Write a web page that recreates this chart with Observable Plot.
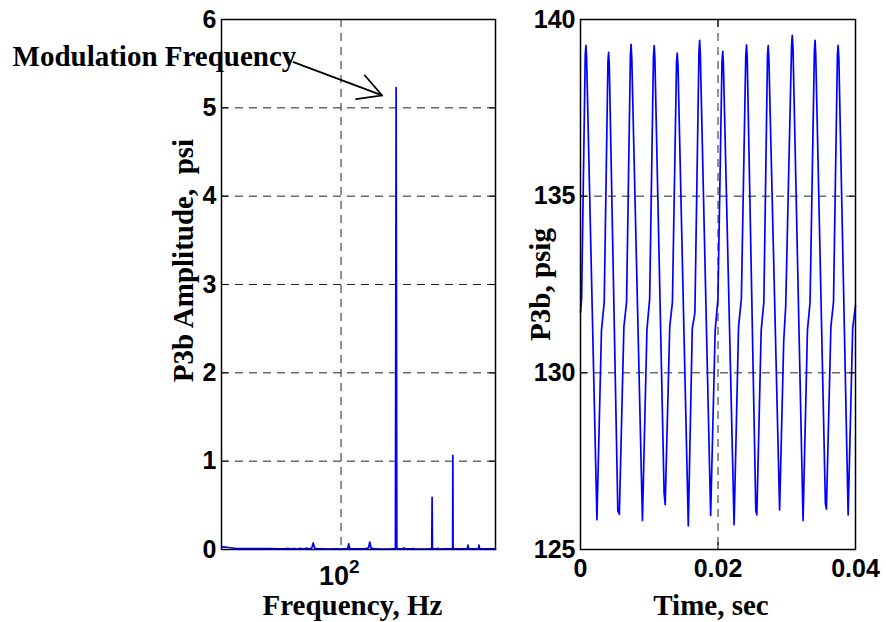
<!DOCTYPE html>
<html><head><meta charset="utf-8">
<script src="https://cdn.jsdelivr.net/npm/d3@7"></script>
<script src="https://cdn.jsdelivr.net/npm/@observablehq/plot@0.6"></script>
<style>
body{margin:0;background:#fff;}
#wrap{position:relative;width:886px;height:622px;overflow:hidden;background:#fff;}
#left{position:absolute;left:0;top:0;}
#right{position:absolute;left:510px;top:0;}
svg{overflow:visible;}
</style></head><body><div id="wrap"><div id="left"></div><div id="right"></div></div>
<script>
// ---- Left panel: spectrum ----
const specFreqHz = [10, 10.8, 11.9, 13, 15, 20, 25, 30, 34, 36, 38, 41, 43, 46, 48, 52, 54, 57, 58.5, 60, 62, 70, 80, 90, 100, 110, 114, 116, 118, 122, 140, 160, 170, 174, 178, 190, 220, 260, 285, 289, 293, 300, 330, 335, 340, 395, 403, 410, 500, 560, 574, 578, 582, 640, 645, 650, 760, 850, 858, 862, 866, 950, 1100, 1140, 1154, 1168, 1300, 1410, 1427, 1445, 1700, 1960];
const specAmpPsi = [0.03, 0.028, 0.02, 0.012, 0.01, 0.009, 0.009, 0.008, 0.007, 0.012, 0.006, 0.01, 0.005, 0.012, 0.006, 0.015, 0.006, 0.02, 0.075, 0.02, 0.006, 0.006, 0.005, 0.006, 0.005, 0.006, 0.015, 0.065, 0.015, 0.006, 0.006, 0.007, 0.02, 0.085, 0.02, 0.006, 0.005, 0.006, 0.01, 5.23, 0.02, 0.01, 0.006, 0.02, 0.006, 0.006, 0.012, 0.005, 0.005, 0.006, 0.01, 0.59, 0.01, 0.006, 0.015, 0.005, 0.006, 0.008, 0.02, 1.065, 0.01, 0.006, 0.006, 0.01, 0.05, 0.01, 0.006, 0.01, 0.05, 0.01, 0.006, 0.007];
const ampTicks = [0, 1, 2, 3, 4, 5, 6];
const freqTicks = [100];
const freqDomain = [10, 1960];

// ---- Right panel: time trace ----
const timeSec = [0, 0.00016, 0.00069, 0.00079, 0.00089, 0.00239, 0.00305, 0.00345, 0.00399, 0.00409, 0.00419, 0.00543, 0.00565, 0.00631, 0.00670, 0.00726, 0.00736, 0.00746, 0.00901, 0.00966, 0.01006, 0.01061, 0.01072, 0.01082, 0.01216, 0.01232, 0.01298, 0.01337, 0.01397, 0.01407, 0.01418, 0.01568, 0.01626, 0.01664, 0.01723, 0.01733, 0.01743, 0.01893, 0.01959, 0.01999, 0.02058, 0.02069, 0.02079, 0.02234, 0.02299, 0.02340, 0.02404, 0.02415, 0.02425, 0.02550, 0.02565, 0.02628, 0.02667, 0.02720, 0.02730, 0.02740, 0.02896, 0.02956, 0.02985, 0.03070, 0.03080, 0.03091, 0.03237, 0.03301, 0.03339, 0.03402, 0.03412, 0.03422, 0.03562, 0.03577, 0.03642, 0.03680, 0.03737, 0.03747, 0.03758, 0.03893, 0.03959, 0.04];
const p3bPsig = [131.7, 132.1, 139.0, 139.27, 138.9, 125.84, 131.2, 132.0, 138.8, 139.07, 138.7, 126.1, 126.0, 131.3, 132.0, 139.0, 139.30, 138.9, 125.82, 131.2, 132.1, 138.95, 139.26, 138.9, 126.6, 126.27, 131.3, 132.0, 138.8, 139.05, 138.7, 125.67, 131.26, 131.7, 139.1, 139.41, 139.0, 125.96, 131.2, 132.1, 138.8, 139.10, 138.7, 125.70, 131.3, 132.1, 139.0, 139.28, 138.9, 126.1, 125.98, 131.2, 132.0, 139.0, 139.26, 138.9, 126.12, 130.9, 131.9, 139.25, 139.55, 139.2, 125.82, 131.2, 132.0, 139.1, 139.41, 139.0, 126.3, 126.14, 131.3, 132.0, 139.0, 139.27, 138.9, 125.98, 131.26, 131.9];
const timeTicks = [0, 0.02, 0.04];
const pressTicks = [125, 130, 135, 140];

const sans = "'Liberation Sans', Arial, Helvetica, sans-serif";
const serif = "'Liberation Serif', 'Times New Roman', Times, serif";
const blue = "#0000ff";
const gridStyle = {stroke: "#222", strokeOpacity: 1, strokeWidth: 1, strokeDasharray: "8,6"};
const titleStyle = {fontFamily: serif, fontSize: 29, fontWeight: "bold", fill: "#000", textAnchor: "middle", lineAnchor: "middle"};

const spec = specFreqHz.map((f, i) => ({f, a: specAmpPsi[i]}));
const trace = timeSec.map((t, i) => ({t, p: p3bPsig[i]}));

const left = Plot.plot({
  width: 510, height: 622,
  marginLeft: 221, marginRight: 15, marginTop: 19, marginBottom: 73,
  x: {type: "log", domain: freqDomain, axis: null},
  y: {domain: [0, 6]},
  style: {fontFamily: sans, background: "transparent", overflow: "visible"},
  marks: [
    Plot.gridY(ampTicks.slice(1, -1), gridStyle),
    Plot.gridX(freqTicks, gridStyle),
    Plot.line(spec, {x: "f", y: "a", stroke: blue, strokeWidth: 1.7}),
    Plot.frame({stroke: "#000", strokeWidth: 1.5}),
    Plot.axisY(ampTicks, {tickSize: -7, tickPadding: 12, fontSize: 25, fontWeight: "bold", label: null, fill: "#000", tickFormat: d => String(d)}),
    Plot.axisY(ampTicks, {anchor: "right", tickSize: -7, tickFormat: () => "", label: null}),
    Plot.text(freqTicks, {x: d => d, y: () => 0, text: () => "10", textAnchor: "end", dx: 8, dy: 27, fontSize: 27, fontWeight: "bold", fill: "#000"}),
    Plot.text(freqTicks, {x: d => d, y: () => 0, text: d => String(Math.log10(d)), textAnchor: "start", dx: 8, dy: 17, fontSize: 19, fontWeight: "bold", fill: "#000"}),
    Plot.text(["Frequency, Hz"], {...titleStyle, frameAnchor: "bottom", dx: -6, dy: 56}),
    Plot.text(["P3b Amplitude,\u00a0 psi"], {...titleStyle, frameAnchor: "left", rotate: -90, dx: -38, dy: -24}),
    Plot.text(["Modulation Frequency"], {x: () => 0.1785, y: () => 5.58, textAnchor: "start", fontFamily: serif, fontSize: 29, fontWeight: "bold", fill: "#000"}),
    Plot.arrow([0], {x1: () => 40, y1: () => 5.517, x2: () => 221, y2: () => 5.14, stroke: "#000", strokeWidth: 1.8, headLength: 22, headAngle: 57, bend: 0})
  ]
});
document.getElementById("left").append(left);

const right = Plot.plot({
  width: 376, height: 622,
  marginLeft: 70, marginRight: 31, marginTop: 19, marginBottom: 73,
  x: {domain: [0, 0.04]},
  y: {domain: [125, 140]},
  style: {fontFamily: sans, background: "transparent", overflow: "visible"},
  marks: [
    Plot.gridY(pressTicks.slice(1, -1), gridStyle),
    Plot.gridX([0.02], gridStyle),
    Plot.line(trace, {x: "t", y: "p", stroke: blue, strokeWidth: 1.7}),
    Plot.frame({stroke: "#000", strokeWidth: 1.5}),
    Plot.axisY(pressTicks, {tickSize: -7, tickPadding: 12, fontSize: 25, fontWeight: "bold", label: null, fill: "#000", tickFormat: d => String(d)}),
    Plot.axisY(pressTicks, {anchor: "right", tickSize: -7, tickFormat: () => "", label: null}),
    Plot.axisX(timeTicks, {tickSize: -7, tickPadding: 17, fontSize: 25, fontWeight: "bold", label: null, fill: "#000", tickFormat: d => d === 0 ? "0" : String(d)}),
    Plot.axisX(timeTicks, {anchor: "top", tickSize: -7, tickFormat: () => "", label: null}),
    Plot.text(["Time, sec"], {...titleStyle, frameAnchor: "bottom", dx: -7, dy: 56}),
    Plot.text(["P3b, psig"], {...titleStyle, frameAnchor: "left", rotate: -90, dx: -40, dy: 0})
  ]
});
document.getElementById("right").append(right);
</script></body></html>
